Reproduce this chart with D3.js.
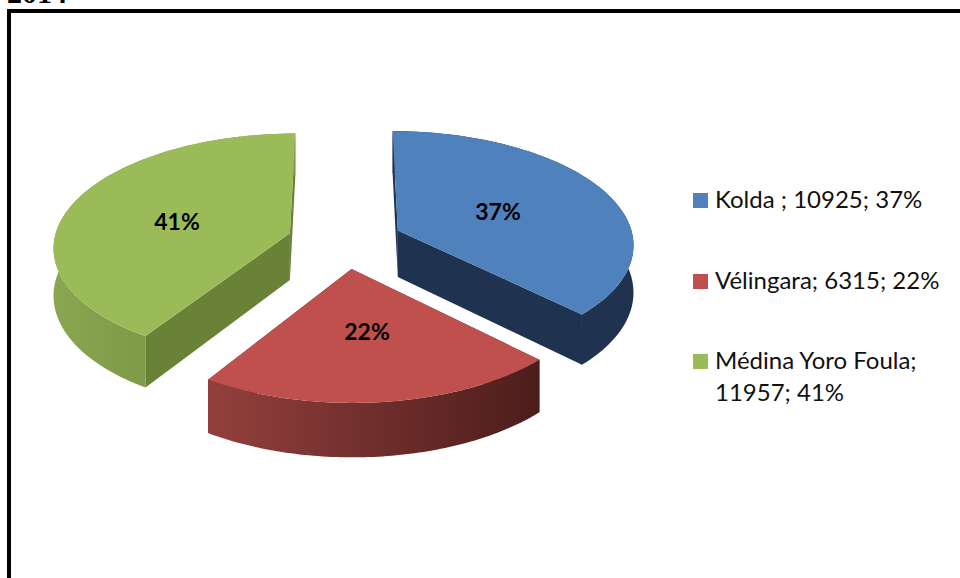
<!DOCTYPE html>
<html><head><meta charset="utf-8">
<script src="https://cdnjs.cloudflare.com/ajax/libs/d3/7.8.5/d3.min.js"></script>
<style>html,body{margin:0;padding:0;background:#fff;overflow:hidden}svg{display:block}</style>
</head><body><svg id="c" width="960" height="578"></svg>
<script>
const categories = ["Kolda", "Vélingara", "Médina Yoro Foula"];
const values = [10925, 6315, 11957];
const percentLabels = ["37%", "22%", "41%"];
const legendLines = [["Kolda ; 10925; 37%"], ["Vélingara; 6315; 22%"], ["Médina Yoro Foula;", "11957; 41%"]];
const topColors = ["#4f81bd", "#c0504d", "#9bbb59"];
const cutColors = ["#1f3350", "#5a2220", "#6a8238"];
const wallStops = [["#1f3350", "#1f3350"], ["#93403d", "#4c1d1b"], ["#8aa650", "#7f9a48"]];
const titleText = "2014";

const svg = d3.select("#c");
// frame + title, cropped by the top edge as in the reference
svg.append("text").attr("x", 7).attr("y", 3).attr("font-family", "Liberation Serif")
  .attr("font-weight", "bold").attr("font-size", 30).text(titleText);
svg.append("path").attr("d", "M9 578V11H960").attr("fill", "none").attr("stroke", "#000").attr("stroke-width", 4);

// tilted-pie projection
const CX = 345, CY = 241, A = 236, B = 112.4, K = 0.11, D = 47, EXPLODE = 0.245;
const proj = (u, v, h) => {
  const w = 1 - K * v;
  return [CX + A * u / w, CY + (B * v + h * D) / w];
};
const pie = d3.pie().sort(null).startAngle(0).endAngle(2 * Math.PI);
const arcs = pie(values);
const line = d3.line();
const defs = svg.append("defs");

arcs.forEach((a, i) => {
  const mid = (a.startAngle + a.endAngle) / 2;
  const ou = EXPLODE * Math.sin(mid), ov = -EXPLODE * Math.cos(mid);
  const n = 80;
  const angs = d3.range(n + 1).map(k => a.startAngle + (a.endAngle - a.startAngle) * k / n);
  const rim = h => angs.map(t => proj(ou + Math.sin(t), ov - Math.cos(t), h));
  const apex = h => proj(ou, ov, h);
  const topRim = rim(0), botRim = rim(1);
  const g = svg.append("g");

  const front = topRim.filter((p, k) => Math.cos(angs[k]) < 0.1);
  const gid = "wall" + i;
  const lg = defs.append("linearGradient").attr("id", gid).attr("gradientUnits", "userSpaceOnUse")
    .attr("x1", d3.min(front, p => p[0])).attr("x2", d3.max(front, p => p[0])).attr("y1", 0).attr("y2", 0);
  lg.append("stop").attr("offset", 0).attr("stop-color", wallStops[i][0]);
  lg.append("stop").attr("offset", 1).attr("stop-color", wallStops[i][1]);

  // cut faces first, so the outer wall hides what lies behind it
  [[topRim[0], botRim[0]], [topRim[n], botRim[n]]].forEach(([t, b]) => {
    g.append("path").attr("d", line([apex(0), t, b, apex(1)]) + "Z").attr("fill", cutColors[i]);
  });
  // outer wall
  g.append("path").attr("d", line(topRim.concat(botRim.slice().reverse())) + "Z").attr("fill", `url(#${gid})`);
  // top face
  g.append("path").attr("d", line([apex(0)].concat(topRim)) + "Z").attr("fill", topColors[i]);
});

// percent labels
const labelPos = [[498, 220], [367, 340], [177, 230]];
percentLabels.forEach((t, i) => {
  svg.append("text").attr("x", labelPos[i][0]).attr("y", labelPos[i][1]).attr("text-anchor", "middle")
    .attr("font-family", "Lato").attr("font-weight", "bold").attr("font-size", 23).attr("fill", "#000").text(t);
});

// legend
const legendY = [193, 274, 354];
legendLines.forEach((ls, i) => {
  svg.append("rect").attr("x", 693).attr("y", legendY[i]).attr("width", 15).attr("height", 15).attr("fill", topColors[i]);
  ls.forEach((t, j) => {
    svg.append("text").attr("x", 715).attr("y", legendY[i] + 15 + j * 32).attr("font-family", "Lato")
      .attr("font-size", 24).attr("fill", "#111").text(t);
  });
});
</script></body></html>
